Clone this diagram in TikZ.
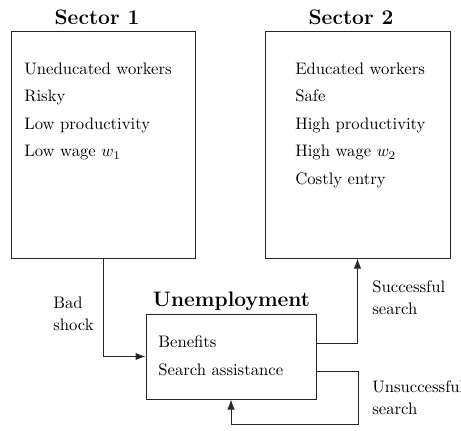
\documentclass[tikz,border=0pt]{standalone}
\usetikzlibrary{arrows.meta, positioning, calc}

\begin{document}
\begin{tikzpicture}[
    x=0.6pt, y=-0.6pt,
    sector/.style={rectangle, draw=black!85, line width=0.6pt, inner sep=0pt},
    title/.style={font=\fontsize{12.6}{15}\selectfont\bfseries, anchor=base, inner sep=0pt},
    items/.style={anchor=north west, align=left, inner sep=0pt,
                  font=\fontsize{10}{16.5}\selectfont},
    label/.style={anchor=north west, align=left, inner sep=0pt,
                  font=\fontsize{10}{13.2}\selectfont},
    arrow/.style={-{Latex[length=6pt, width=4.4pt]}, line width=0.6pt, draw=black!85},
]
    \useasboundingbox (0,0) rectangle (461,430);

    % the two sectors and the unemployment pool
    \node[sector, minimum width=110.4pt, minimum height=136.2pt] (sec1)  at (103,144.5)   {};
    \node[sector, minimum width=111pt,   minimum height=136.2pt] (sec2)  at (357.5,144.5) {};
    \node[sector, minimum width=102pt,   minimum height=51pt]    (unemp) at (231,356.5)   {};

    \node[title] (sec1title)  at (97,24)    {Sector 1};
    \node[title] (sec2title)  at (351,24)   {Sector 2};
    \node[title] (unemptitle) at (231.5,306) {Unemployment};

    \node[items] (sec1items) at (24,62.5)
        {Uneducated workers\\ Risky\\ Low productivity\\ Low wage $w_1$};
    \node[items] (sec2items) at (295,62.5)
        {Educated workers\\ Safe\\ High productivity\\ High wage $w_2$\\ Costly entry};
    \node[items] (unempitems) at (158,335.5)
        {Benefits\\ Search assistance};

    % flows between the states
    \draw[arrow] (sec1.south) |- (unemp.west);
    \draw[arrow] ($(unemp.east)+(0,-13)$) -| (sec2.south);
    \coordinate (loop) at ($(unemp.east)+(42,67.5)$);
    \draw[arrow] ($(unemp.east)+(0,15)$) -| (loop) -| (unemp.south);

    \node[label] (shock)   at (53,296.5)  {Bad\\ shock};
    \node[label] (success) at (372,280.5) {Successful\\ search};
    \node[label] (failure) at (372,380.5) {Unsuccessful\\ search};
\end{tikzpicture}
\end{document}
